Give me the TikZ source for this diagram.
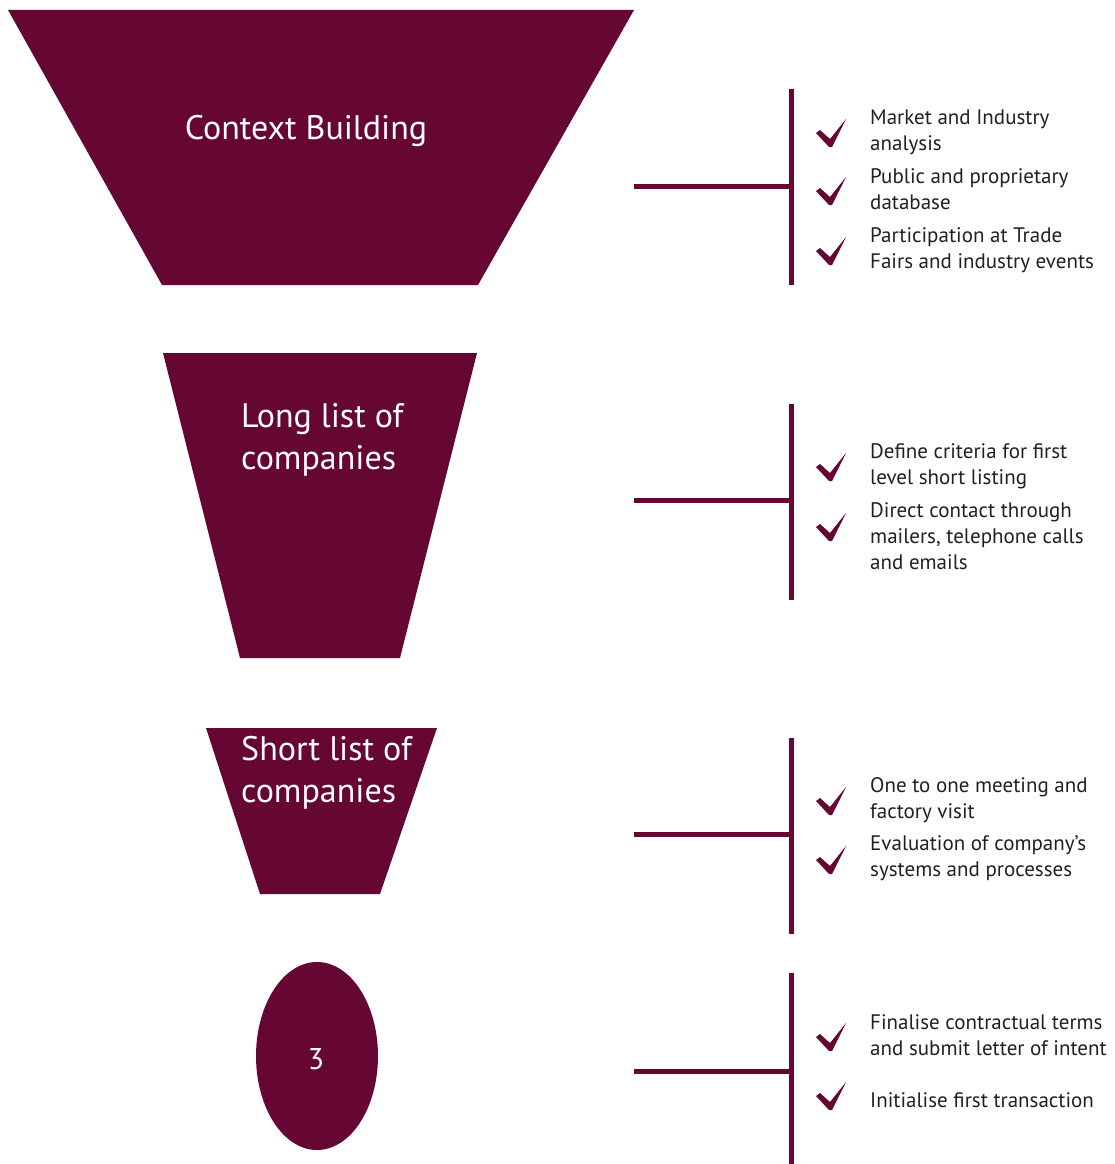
\documentclass[tikz,border=0pt]{standalone}
\usepackage{fontspec}
\setmainfont{PT Sans}
\usetikzlibrary{shapes}
\definecolor{wine}{HTML}{660632}
\definecolor{ink}{HTML}{231F20}
\tikzset{
  stage/.style={fill=wine, draw=none},
  stagetext/.style={text=white, font=\fontsize{34}{42}\selectfont, align=left, inner sep=0pt},
  itemtext/.style={text=ink, font=\fontsize{21}{26}\selectfont, align=left, anchor=west, inner sep=0pt},
  link/.style={draw=wine, line width=5pt},
  tick/.pic={\fill[wine] (-14,-14) -- (-10,-17) -- (0,-8) -- (16,-28) -- (2,0) -- (-1,0) -- cycle;}
}

\begin{document}
\begin{tikzpicture}[x=1pt, y=-1pt]
    \useasboundingbox (0,0) rectangle (1115,1164);

    % funnel stages
    \fill[stage] (8,10) -- (634,10) -- (478,285) -- (162,285) -- cycle;
    \node[stagetext] (ctx) at (306,131) {Context Building};
    \fill[stage] (163,353) -- (477,353) -- (400,658) -- (240,658) -- cycle;
    \node[stagetext, anchor=west] (long) at (241,440) {Long list of\\companies};
    \fill[stage] (206,728) -- (437,728) -- (380,894) -- (260,894) -- cycle;
    \node[stagetext, anchor=west] (short) at (241,773) {Short list of\\companies};
    \fill[stage] (317,1056) ellipse (61 and 94);
    \node[stagetext, font=\fontsize{30}{36}\selectfont] (final) at (316,1059) {3};

    % connectors
    \coordinate (ctx-out) at (634,186);   \coordinate (ctx-bar) at (791,186);
    \coordinate (long-out) at (634,500);  \coordinate (long-bar) at (791,500);
    \coordinate (short-out) at (634,834); \coordinate (short-bar) at (791,834);
    \coordinate (final-out) at (634,1071); \coordinate (final-bar) at (791,1071);
    \draw[link] (ctx-out) -- (ctx-bar);
    \draw[link] (long-out) -- (long-bar);
    \draw[link] (short-out) -- (short-bar);
    \draw[link] (final-out) -- (final-bar);
    \draw[link] (791,89) -- (791,285);
    \draw[link] (791,404) -- (791,600);
    \draw[link] (791,738) -- (791,934);
    \draw[link] (791,973) -- (791,1164);

    % ticks
    \foreach \y in {147,205,265,481,541,815,874,1051,1110}
      \pic at (830,\y) {tick};

    % activities
    \node[itemtext] (ctx-a) at (870,132) {Market and Industry\\analysis};
    \node[itemtext] (ctx-b) at (870,189) {Public and proprietary\\database};
    \node[itemtext] (ctx-c) at (870,250) {Participation at Trade\\Fairs and industry events};
    \node[itemtext] (long-a) at (870,466) {Define criteria for first\\level short listing};
    \node[itemtext] (long-b) at (870,536) {Direct contact through\\mailers, telephone calls\\and emails};
    \node[itemtext] (short-a) at (870,800) {One to one meeting and\\factory visit};
    \node[itemtext] (short-b) at (870,858) {Evaluation of company’s\\systems and processes};
    \node[itemtext] (final-a) at (870,1035) {Finalise contractual terms\\and submit letter of intent};
    \node[itemtext] (final-b) at (870,1100) {Initialise first transaction};
\end{tikzpicture}
\end{document}
